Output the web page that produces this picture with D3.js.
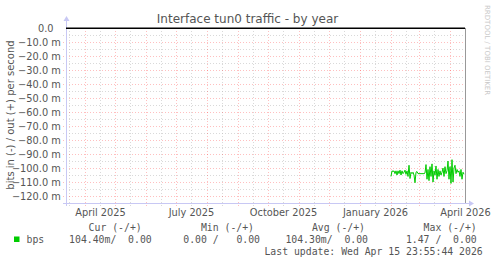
<!DOCTYPE html>
<html>
<head>
<meta charset="utf-8">
<title>Interface tun0 traffic - by year</title>
<style>
    body { margin: 0; background: #fff; }
    svg { display: block; }
    .title { font-family: "DejaVu Sans"; font-size: 12px; fill: #555; text-anchor: middle; }
    .ylab { font-family: "DejaVu Sans"; font-size: 10px; fill: #555; text-anchor: middle; }
    .tick { font-family: "DejaVu Sans"; font-size: 9.8px; fill: #555; }
    .mono { font-family: "DejaVu Sans Mono"; font-size: 9.8px; fill: #555; white-space: pre; }
    .credit { font-family: "DejaVu Sans"; font-size: 7px; fill: #c8c8c8; }
</style>
</head>
<body>
<script src="https://cdn.jsdelivr.net/npm/d3@7"></script>
<script>
    // series: bps in (negative), daily samples starting Feb 1 2026, millibits/s
    const seriesStart = "2026-02-01";
    const bpsIn = [
        -106, -102, -102.5, -102, -104, -102, -105, -102, -104, -101.5,
        -105, -102, -104, -103, -101.5, -104.5, -102, -106, -98, -107.5,
        -103, -104, -103, -105, -110.5, -103, -102.5, -104, -104, -104,
        -104, -104, -104, -104, -103.5, -97.5, -108, -101, -109, -99,
        -106, -97, -110, -102, -105, -98.5, -108, -101, -106, -102,
        -105, -103, -100, -106, -99, -104, -102, -95, -108, -99,
        -111, -94, -110, -100, -98, -104, -101, -103, -102, -106,
        -101, -108, -103, -104.4
    ];
    const yTicks = [0, -10, -20, -30, -40, -50, -60, -70, -80, -90, -100, -110, -120];
    const xLabelMonths = ["2025-04-01", "2025-07-01", "2025-10-01", "2026-01-01", "2026-04-01"];
    const legendHead = ["Cur (-/+)", "Min (-/+)", "Avg (-/+)", "Max (-/+)"];
    const legendVals = ["104.40m/  0.00", "0.00 /   0.00", "104.30m/  0.00", "1.47 /  0.00"];
    const lastUpdate = "Last update: Wed Apr 15 23:55:44 2026";

    const W = 497, H = 264;
    const svg = d3.select("body").append("svg").attr("width", W).attr("height", H);

    const end = new Date(Date.UTC(2026, 3, 16));
    const start = d3.utcDay.offset(end, -400);
    const x = d3.scaleUtc().domain([start, end]).range([65, 465]);
    const y = d3.scaleLinear().domain([-125, 0]).range([203, 28.3]);

    const day0 = new Date(seriesStart + "T00:00:00Z");
    const points = bpsIn.map((v, i) => ({t: d3.utcDay.offset(day0, i), v: v}));

    // grid: minor (5 m / mid month), major (10 m / month)
    const grid = svg.append("g");
    const minorCol = "#bababa", majorCol = "#ff0000";
    const minorY = d3.range(-125, 0, 5).filter(v => v % 10 !== 0);
    grid.selectAll(".hmin").data(minorY).enter().append("line")
        .attr("x1", 63).attr("x2", 468)
        .attr("y1", d => Math.round(y(d)) + 0.5).attr("y2", d => Math.round(y(d)) + 0.5)
        .attr("stroke", minorCol).attr("stroke-opacity", 0.55).attr("stroke-dasharray", "1,2");
    const months = d3.utcMonth.range(start, end);
    const mids = months.map(m => d3.utcDay.offset(m, 15)).concat([d3.utcDay.offset(d3.utcMonth.floor(start), 15)])
        .filter(d => d > start && d < end);
    grid.selectAll(".vmin").data(mids).enter().append("line")
        .attr("x1", d => Math.round(x(d)) + 0.5).attr("x2", d => Math.round(x(d)) + 0.5)
        .attr("y1", 28).attr("y2", 206)
        .attr("stroke", minorCol).attr("stroke-opacity", 0.55).attr("stroke-dasharray", "1,2");
    grid.selectAll(".hmaj").data(yTicks.filter(d => d !== 0)).enter().append("line")
        .attr("x1", 63).attr("x2", 468)
        .attr("y1", d => Math.round(y(d)) + 0.5).attr("y2", d => Math.round(y(d)) + 0.5)
        .attr("stroke", majorCol).attr("stroke-opacity", 0.25).attr("stroke-dasharray", "1,2");
    grid.selectAll(".vmaj").data(months).enter().append("line")
        .attr("x1", d => Math.round(x(d)) + 0.5).attr("x2", d => Math.round(x(d)) + 0.5)
        .attr("y1", 28).attr("y2", 206)
        .attr("stroke", majorCol).attr("stroke-opacity", 0.25).attr("stroke-dasharray", "1,2");

    // axes
    const axisCol = "#c8c8f4";
    svg.append("line").attr("x1", 63).attr("x2", 469).attr("y1", 203.5).attr("y2", 203.5)
        .attr("stroke", axisCol);
    svg.append("path").attr("d", "M469,200.5L474,203.5L469,206.5Z").attr("fill", axisCol);
    svg.append("line").attr("x1", 66.5).attr("x2", 66.5).attr("y1", 21).attr("y2", 206)
        .attr("stroke", axisCol);
    svg.append("path").attr("d", "M63.5,21L66.5,16L69.5,21Z").attr("fill", axisCol);

    // right edge
    svg.append("line").attr("x1", 465.5).attr("x2", 465.5).attr("y1", 28).attr("y2", 203)
        .attr("stroke", "#999");

    // y labels
    svg.append("g").selectAll("text").data(yTicks).enter().append("text")
        .attr("class", "tick").attr("text-anchor", "end")
        .attr("x", d => d === 0 ? 53.5 : 60.8)
        .attr("y", d => y(d) + 3.6)
        .text(d => d === 0 ? "0.0" : d3.format(".1f")(d) + " m");

    // x labels
    svg.append("g").selectAll("text").data(xLabelMonths).enter().append("text")
        .attr("class", "tick").attr("text-anchor", "middle")
        .attr("x", d => x(d3.utcHour.offset(new Date(d + "T00:00:00Z"), 372)))
        .attr("y", 215.5)
        .text(d => d3.utcFormat("%B %Y")(new Date(d + "T00:00:00Z")));

    // zero line
    svg.append("line").attr("x1", 66).attr("x2", 465).attr("y1", y(0)).attr("y2", y(0))
        .attr("stroke", "#000").attr("stroke-width", 1.5);

    // data
    svg.append("path").datum(points)
        .attr("fill", "none").attr("stroke", "#00cc00").attr("stroke-width", 1)
        .attr("d", d3.line().x(d => x(d.t)).y(d => y(d.v)));

    // titles
    svg.append("text").attr("class", "title").attr("x", 247.5).attr("y", 22.5)
        .text("Interface tun0 traffic - by year");
    svg.append("text").attr("class", "ylab")
        .attr("transform", "translate(14,115) rotate(-90)")
        .text("bits in (-) / out (+) per second");
    svg.append("text").attr("class", "credit")
        .attr("transform", "translate(485,5) rotate(90)")
        .text("RRDTOOL / TOBI OETIKER");

    // legend
    const headX = [141.7, 254, 365, 476.7];
    const valX = [151.7, 260, 368, 476.7];
    svg.append("g").selectAll("text").data(legendHead).enter().append("text")
        .attr("class", "mono").attr("text-anchor", "end")
        .attr("x", (d, i) => headX[i]).attr("y", 230.5).text(d => d);
    svg.append("rect").attr("x", 14).attr("y", 236.5).attr("width", 5.5).attr("height", 5.5)
        .attr("fill", "#00cc00");
    svg.append("text").attr("class", "mono").attr("x", 26.5).attr("y", 243).text("bps");
    svg.append("g").selectAll("text").data(legendVals).enter().append("text")
        .attr("class", "mono").attr("text-anchor", "end")
        .attr("x", (d, i) => valX[i]).attr("y", 243).text(d => d);
    svg.append("text").attr("class", "mono").attr("text-anchor", "end")
        .attr("x", 482.7).attr("y", 255).text(lastUpdate);
</script>
</body>
</html>
